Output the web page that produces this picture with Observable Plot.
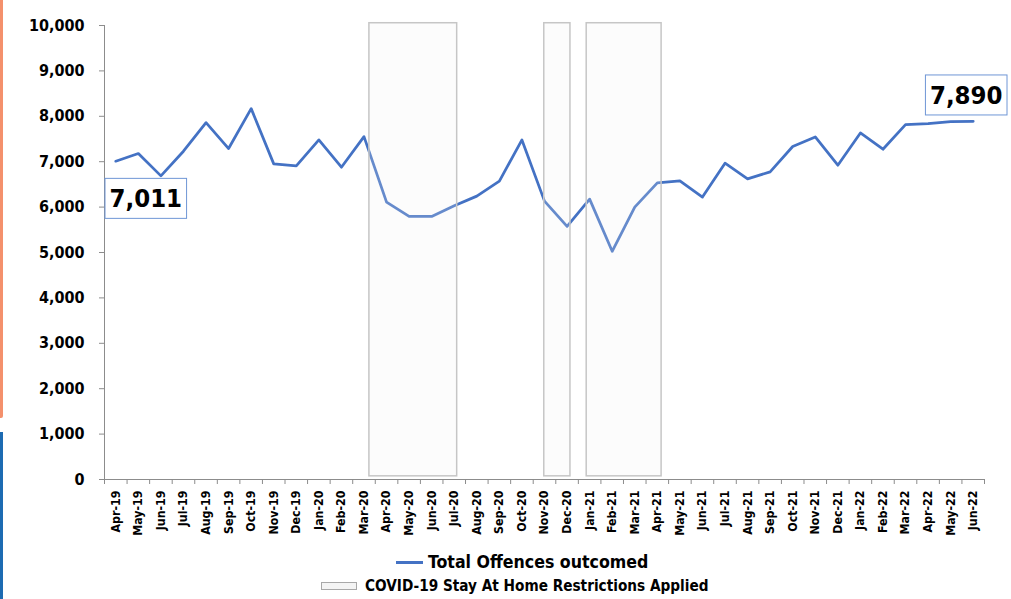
<!DOCTYPE html>
<html>
<head>
<meta charset="utf-8">
<script src="https://cdn.jsdelivr.net/npm/d3@7"></script>
<script src="https://cdn.jsdelivr.net/npm/@observablehq/plot@0.6"></script>
<style>
  html, body { margin: 0; padding: 0; background: #fff; }
  #wrap { position: relative; width: 1011px; height: 599px; overflow: hidden; background: #fff;
          font-family: 'DejaVu Sans Condensed', 'DejaVu Sans', sans-serif; font-weight: bold; color: #000; }
  #chart { position: absolute; left: 0; top: 0; }
  .bar { position: absolute; left: 0; width: 3px; }
  .leg { position: absolute; display: flex; align-items: center; white-space: nowrap; background: #fff; }
</style>
</head>
<body>
<div id="wrap">
  <div class="bar" style="top:-4px;height:422px;background:#F4906C;border-radius:0 0 2px 0;"></div>
  <div class="bar" style="top:432px;height:170px;background:#1D6BB2;"></div>
  <div id="chart"></div>
  <div class="leg" id="leg1" style="left:396px;top:551px;height:22px;font-size:17.6px;">
    <span style="display:inline-block;width:27px;height:3px;background:#4472C4;margin-right:5px;"></span>
    <span>Total Offences outcomed</span>
  </div>
  <div class="leg" id="leg2" style="left:321px;top:573px;height:26px;font-size:15.2px;padding-right:4px;">
    <span style="display:inline-block;width:34px;height:6px;background:#f4f4f4;border:1px solid #a8a8a8;margin-right:8px;"></span>
    <span>COVID-19 Stay At Home Restrictions Applied</span>
  </div>
</div>
<script>
// ---- Data ----
const months = ["Apr-19","May-19","Jun-19","Jul-19","Aug-19","Sep-19","Oct-19","Nov-19","Dec-19",
  "Jan-20","Feb-20","Mar-20","Apr-20","May-20","Jun-20","Jul-20","Aug-20","Sep-20","Oct-20","Nov-20","Dec-20",
  "Jan-21","Feb-21","Mar-21","Apr-21","May-21","Jun-21","Jul-21","Aug-21","Sep-21","Oct-21","Nov-21","Dec-21",
  "Jan-22","Feb-22","Mar-22","Apr-22","May-22","Jun-22"];
const offences = [7011, 7180, 6688, 7231, 7861, 7290, 8169, 6952, 6908,
  7480, 6879, 7553, 6110, 5795, 5795, 6029, 6242, 6571, 7480, 6132, 5575,
  6176, 5026, 6000, 6535, 6580, 6220, 6967, 6623, 6777, 7334, 7546, 6923,
  7634, 7275, 7817, 7839, 7883, 7890];
// restriction periods, in month-index units along the category axis
const restrictionStart = [11.74, 19.49, 21.37];
const restrictionEnd   = [15.63, 20.65, 24.69];
const yTicks = [0, 1000, 2000, 3000, 4000, 5000, 6000, 7000, 8000, 9000, 10000];

// ---- Tables built from the arrays ----
const series = months.map((m, i) => ({month: m, pos: i + 0.5, value: offences[i]}));
const restrictions = restrictionStart.map((s, i) => ({start: s, end: restrictionEnd[i]}));
const boundaries = d3.range(0, months.length + 1);
const centers = months.map((m, i) => i + 0.5);
const fmt = d3.format(",");

const chart = Plot.plot({
  width: 1011,
  height: 545,
  marginLeft: 104,
  marginRight: 27,
  marginTop: 25,
  marginBottom: 66,
  style: {
    fontFamily: "'DejaVu Sans Condensed', 'DejaVu Sans', sans-serif",
    fontWeight: "bold",
    color: "#000",
    background: "transparent",
    overflow: "visible"
  },
  x: {domain: [0, months.length], axis: null},
  y: {domain: [0, 10000], axis: null},
  marks: [
    Plot.ruleY([0], {stroke: "#8c8c8c", strokeWidth: 1}),
    Plot.ruleX([0], {stroke: "#8c8c8c", strokeWidth: 1}),
    Plot.axisY({ticks: yTicks, tickSize: 5, tickPadding: 15, tickFormat: fmt, fontSize: 16,
      stroke: "#8c8c8c", label: null}),
    Plot.axisX({ticks: boundaries, tickSize: 5, tickFormat: () => "", stroke: "#8c8c8c", label: null}),
    Plot.axisX({ticks: centers, tickSize: 0, tickPadding: 11, tickRotate: -90, fontSize: 12.3,
      tickFormat: d => months[Math.round(d - 0.5)], label: null}),
    Plot.line(series, {x: "pos", y: "value", stroke: "#4472C4", strokeWidth: 2.75,
      strokeLinejoin: "round", strokeLinecap: "round"}),
    Plot.rect(restrictions, {x1: "start", x2: "end", y1: 70, y2: 10050,
      fill: "#f0f0f0", fillOpacity: 0.2, stroke: "#c6c6c6", strokeWidth: 1.5}),
    Plot.text([series[0]], {x: "pos", y: "value", text: d => fmt(d.value), dx: 30, dy: 38,
      fontSize: 25.5, fill: "#000", className: "dlabel"}),
    Plot.text([series[series.length - 1]], {x: "pos", y: "value", text: d => fmt(d.value), dx: -7, dy: -25.5,
      fontSize: 25.5, fill: "#000", className: "dlabel"})
  ]
});

document.getElementById("chart").append(chart);

// boxes behind the data labels
chart.querySelectorAll(".dlabel text").forEach(t => {
  const b = t.getBBox();
  const r = document.createElementNS("http://www.w3.org/2000/svg", "rect");
  const w = b.width + 9, h = 40;
  r.setAttribute("x", b.x + b.width / 2 - w / 2);
  r.setAttribute("y", b.y + b.height / 2 - h / 2);
  r.setAttribute("width", w);
  r.setAttribute("height", h);
  r.setAttribute("fill", "#fff");
  r.setAttribute("stroke", "#6f96d6");
  r.setAttribute("stroke-width", 1);
  const tr = t.getAttribute("transform");
  if (tr) r.setAttribute("transform", tr);
  t.parentNode.insertBefore(r, t);
});
</script>
</body>
</html>
